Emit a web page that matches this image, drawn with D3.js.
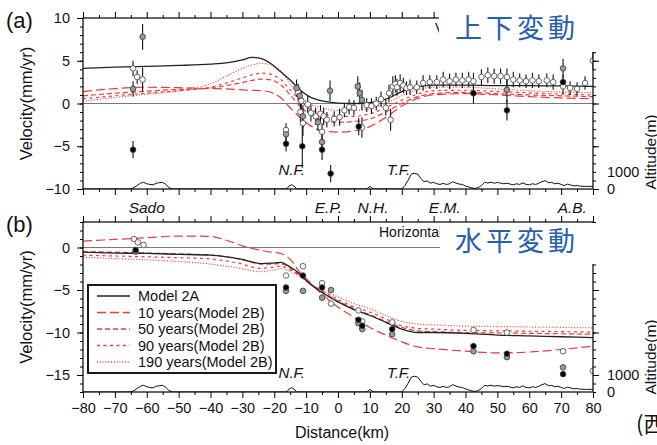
<!DOCTYPE html>
<html>
<head>
<meta charset="utf-8">
<script src="https://cdn.jsdelivr.net/npm/d3@7"></script>
<style>
body { margin: 0; background: #fff; }
svg { display: block; font-family: "Liberation Sans", Arial, Helvetica, sans-serif; }
</style>
</head>
<body>
<svg id="fig" width="657" height="445"></svg>
<script>
// ---- model curves (distance grid in km) ----
const gridKm = [-80,-70,-60,-50,-40,-35,-30,-27,-24,-21,-18,-15,-12,-9,-5,0,5,10,15,20,25,30,40,50,60,70,80];

// (a) vertical velocity, mm/yr
const vertModel2A = [4.1,4.25,4.35,4.45,4.6,4.75,5.1,5.4,5.25,4.65,3.7,2.75,1.6,0.8,0.3,0.05,0.0,0.1,0.5,1.4,1.95,2.15,2.15,2.1,2.1,2.05,2.0];
const vert10yr = [1.4,1.75,1.9,1.85,1.75,1.7,1.6,1.55,1.5,1.3,0.7,-0.5,-1.6,-2.5,-3.2,-3.35,-3.2,-2.7,-1.6,-0.3,0.6,1.0,1.15,1.0,0.8,0.65,0.55];
const vert50yr = [0.9,1.2,1.45,1.65,1.8,2.1,2.45,2.7,2.85,2.75,2.2,1.0,-0.3,-1.2,-1.9,-2.2,-2.1,-1.8,-1.0,0.0,0.8,1.15,1.3,1.15,1.0,0.9,0.8];
const vert90yr = [0.55,0.9,1.2,1.5,1.9,2.4,3.0,3.35,3.55,3.4,2.8,1.6,0.4,-0.6,-1.2,-1.5,-1.5,-1.2,-0.5,0.4,1.1,1.5,1.55,1.4,1.25,1.1,1.0];
const vert190yr = [0.3,0.7,1.1,1.45,2.3,3.2,4.1,4.5,4.7,4.5,3.8,2.3,0.9,0.0,-0.5,-0.8,-0.8,-0.6,0.0,0.9,1.6,1.9,1.9,1.7,1.5,1.35,1.25];

// (b) horizontal velocity, mm/yr
const horizModel2A = [-0.55,-0.65,-0.7,-0.8,-0.9,-1.1,-1.4,-1.7,-1.9,-1.85,-1.75,-2.3,-3.1,-4.2,-5.3,-6.4,-7.3,-8.0,-8.8,-9.6,-10.0,-10.0,-10.1,-10.3,-10.4,-10.5,-10.6];
const horiz10yr = [0.75,0.95,1.15,1.35,1.3,0.85,0.2,-0.1,-0.35,-0.55,-0.7,-1.4,-2.9,-4.0,-5.5,-7.0,-8.2,-9.4,-10.3,-11.1,-11.7,-11.9,-12.2,-12.4,-12.3,-12.0,-11.6];
const horiz50yr = [-0.5,-0.55,-0.65,-0.75,-0.9,-1.1,-1.45,-1.75,-1.95,-1.95,-1.9,-2.4,-3.2,-4.2,-5.2,-6.3,-7.2,-7.9,-8.7,-9.4,-9.8,-9.9,-10.0,-10.05,-10.1,-10.15,-10.2];
const horiz90yr = [-0.9,-1.0,-1.1,-1.2,-1.35,-1.6,-1.95,-2.3,-2.45,-2.35,-2.2,-2.6,-3.3,-4.2,-5.1,-6.1,-7.0,-7.6,-8.4,-9.2,-9.5,-9.6,-9.75,-9.8,-9.85,-9.9,-9.95];
const horiz190yr = [-1.15,-1.3,-1.45,-1.65,-1.95,-2.2,-2.5,-2.75,-2.85,-2.7,-2.5,-2.8,-3.4,-4.2,-5.0,-5.8,-6.6,-7.2,-8.0,-8.7,-9.0,-9.1,-9.25,-9.3,-9.35,-9.4,-9.45];

// ---- topography profile (m) ----
const topoKm  = [-80,-65,-64,-63,-62,-61,-60,-59,-58,-57,-56,-55,-54,-53,-52,-16,-15.5,-14.5,-13.5,-13,9,10,11,20,21,22,23,24,25,26,27,28,29,30,31,32,33,34,35,36,37,38,39,40,41,42,43,44,45,46,47,48,49,50,51,52,53,54,55,56,57,58,59,60,61,62,63,64,65,66,67,68,69,70,71,72,73,74,75,76,78,80];
const topoAlt = [0,0,80,200,330,380,300,260,240,330,360,380,260,80,0,0,150,250,120,0,0,150,0,0,200,500,850,900,850,600,420,460,330,380,300,260,320,260,300,420,340,280,260,170,120,60,30,80,200,380,340,390,330,370,340,300,330,280,240,300,260,350,260,240,300,260,330,420,480,360,380,300,330,260,200,280,230,180,200,160,150,150];

// ---- observations ----
// (a) vertical: distance, velocity, error, kind (w open, g gray, b black)
const vertObsKm   = [-64.3,-64.3,-64.3,-63,-61.3,-61.3,-16.3,-16.3,-16.3,-13,-12.5,-12,-11.5,-11.8,-11,-11,-11.2,-9.5,-8.5,-7,-6.3,-5.5,-5,-5,-5,-4.5,-3.5,-2.5,-2.3,-1.2,0.5,2,3.5,5,6.2,6.8,7.5,6.5,7.5,9,10.5,12,13.5,15,16,16.5,17.2,18,18.5,19.5,20.5,21.5,22.6,24.7,26.7,28.8,31,33,35,37,39,41,42.5,42.5,45,47,49,51,53,53,53,55,57,59,61,63,65.5,67.5,70.6,70.6,70.6,72.8,75,77.5,80];
const vertObsVel  = [4.1,1.7,-5.4,3.1,7.8,2.8,-3.1,-3.6,-4.7,1.8,1.3,0.9,0.3,-1.0,-1.5,-2.3,-5.0,-0.1,-1.1,-1.5,-2.2,-1.2,-3.3,-4.5,-5.4,-1.5,-1.9,1.5,-8.2,-1.8,-1.6,-0.8,-0.4,-0.5,2.0,1.2,0.4,-2.7,-2.8,-0.2,-0.3,0.0,0.5,-0.5,1.2,-1.9,2.0,2.3,1.9,2.4,2.1,1.8,1.9,1.9,2.4,2.5,2.5,2.8,2.6,2.8,2.7,2.8,2.6,1.2,3.1,3.3,3.2,3.2,3.1,1.6,-0.8,2.8,2.7,2.6,2.7,2.6,2.7,2.5,4.1,2.5,2.0,1.8,1.7,2.4,5.0];
const vertObsErr  = [0.9,0.9,1.0,0.8,1.5,1.4,0.8,0.8,0.9,1.0,1.0,1.0,1.2,1.2,1.3,1.5,2.5,1.0,1.0,1.0,1.0,1.0,1.0,1.0,1.2,1.0,0.9,1.2,1.0,0.9,1.0,0.8,0.9,0.9,1.2,1.3,1.2,1.0,1.2,0.8,0.9,0.8,0.9,0.9,1.0,1.3,1.2,1.0,1.0,1.0,0.9,0.8,0.9,0.8,0.9,0.8,0.8,0.9,0.9,0.8,0.9,0.9,1.0,1.2,0.9,0.9,0.9,0.9,1.0,1.5,1.2,0.9,0.8,0.8,0.9,0.8,0.8,0.9,1.1,0.9,0.9,0.8,0.8,0.8,1.0];
const vertObsKind = ["w","g","b","w","g","w","w","g","b","g","w","g","w","w","g","w","b","w","w","w","g","w","w","g","b","w","w","g","b","w","w","w","w","w","g","g","g","b","w","w","w","w","w","w","w","w","w","w","w","w","w","w","w","w","w","w","w","w","w","w","w","w","w","b","w","w","w","w","w","g","b","w","w","w","w","w","w","w","g","b","w","w","w","w","w"];

// (b) horizontal
const horizObsKm   = [-64,-62.8,-61,-63.5,-63.5,-16.3,-16.3,-16.3,-11,-11,-11,-5,-5,-5,-2.2,-2.2,6.4,6.4,6.4,7.6,7.6,7.6,17,17,17,42.5,42.5,42.5,53,53,53,70.6,70.6,70.6,80];
const horizObsVel  = [1.0,0.6,0.3,-0.5,-0.3,-3.3,-4.7,-5.1,-2.2,-3.3,-5.1,-4.2,-4.7,-5.9,-5.0,-6.6,-7.4,-8.5,-8.9,-8.7,-9.2,-9.6,-8.8,-9.6,-10.2,-9.7,-11.6,-12.2,-10.0,-12.5,-12.9,-12.2,-14.9,-14.1,-14.5];
const horizObsKind = ["w","w","w","g","b","w","b","g","w","b","g","w","b","g","g","w","w","b","g","w","b","g","w","b","g","w","b","g","w","b","g","w","b","g","w"];

// ---- labels ----
const xTickValues = d3.range(-80, 81, 10);
const siteNames = ["Sado", "E.P.", "N.H.", "E.M.", "A.B."];
const siteKm = [-60, -3, 11, 33.5, 73.5];
const faultNames = ["N.F.", "T.F."];
const faultKm = [-14.5, 19];
const seriesNames = ["Model 2A", "10 years(Model 2B)", "50 years(Model 2B)", "90 years(Model 2B)", "190 years(Model 2B)"];
const altTicks = [0, 1000];

// styles per series
const seriesColor = ["#222", "#ec3b3f", "#ec3b3f", "#ec3b3f", "#ec3b3f"];
const seriesDash = [null, "9,4", "5,3", "3,3.5", "1,1.8"];
const kindFill = { w: "#fff", g: "#9a9a9a", b: "#000" };

const svg = d3.select("#fig");
const x = d3.scaleLinear([-80, 80], [83, 593]);

function makePanel(p) {
    const y = d3.scaleLinear(p.yDomain, [p.bottom, p.top]);
    const alt = d3.scaleLinear([0, 1000], [p.bottom, p.bottom - 17.5]);
    const g = svg.append("g");

    const clipId = "clip" + p.id;
    svg.append("clipPath").attr("id", clipId)
        .append("rect").attr("x", 83).attr("y", p.top).attr("width", 510).attr("height", p.bottom - p.top);

    // zero line
    g.append("line").attr("x1", 83).attr("x2", 593).attr("y1", y(0)).attr("y2", y(0))
        .attr("stroke", "#555").attr("stroke-width", 0.8);

    // topography
    g.append("path")
        .datum(d3.zip(topoKm, topoAlt))
        .attr("clip-path", `url(#${clipId})`)
        .attr("fill", "none").attr("stroke", "#111").attr("stroke-width", 1)
        .attr("d", d3.line().x(d => x(d[0])).y(d => alt(d[1])));

    // model curves
    const inner = g.append("g").attr("clip-path", `url(#${clipId})`);
    const line = d3.line().curve(d3.curveMonotoneX).x(d => x(d[0])).y(d => y(d[1]));
    p.series.slice().reverse().forEach((s, ri) => {
        const i = p.series.length - 1 - ri;
        inner.append("path")
            .datum(d3.zip(gridKm, s))
            .attr("fill", "none")
            .attr("stroke", seriesColor[i])
            .attr("stroke-width", i === 0 ? 1.3 : 1.2)
            .attr("stroke-dasharray", seriesDash[i])
            .attr("d", line);
    });

    // observations
    const obs = p.obsKm.map((k, i) => ({ km: k, v: p.obsVel[i], e: p.obsErr ? p.obsErr[i] : 0, kind: p.obsKind[i] }));
    const order = { w: 0, g: 1, b: 2 };
    obs.sort((a, b) => order[a.kind] - order[b.kind]);
    if (p.obsErr) {
        inner.selectAll(".err").data(obs).enter().append("line")
            .attr("class", "err")
            .attr("x1", d => x(d.km)).attr("x2", d => x(d.km))
            .attr("y1", d => y(d.v - d.e)).attr("y2", d => y(d.v + d.e))
            .attr("stroke", "#111").attr("stroke-width", 1.1);
    }
    inner.selectAll(".dot").data(obs).enter().append("circle")
        .attr("class", "dot")
        .attr("cx", d => x(d.km)).attr("cy", d => y(d.v))
        .attr("r", 2.8)
        .attr("fill", d => kindFill[d.kind])
        .attr("stroke", d => d.kind === "w" ? "#555" : "#444")
        .attr("stroke-width", 0.9);

    // frame
    g.append("rect").attr("x", 83).attr("y", p.top).attr("width", 510).attr("height", p.bottom - p.top)
        .attr("fill", "none").attr("stroke", "#000").attr("stroke-width", 1.2);

    // x ticks on top and bottom: long every 10 km, short every 5 km
    const xMinor = d3.range(-75, 80, 10);
    [[d3.axisBottom, p.bottom], [d3.axisTop, p.top]].forEach(([ax, pos]) => {
        const a1 = g.append("g").attr("transform", `translate(0,${pos})`)
            .call(ax(x).tickValues(xMinor).tickSize(3).tickFormat(""));
        a1.select(".domain").remove();
        const a2 = g.append("g").attr("transform", `translate(0,${pos})`)
            .call(ax(x).tickValues(xTickValues).tickSize(6).tickPadding(5)
                .tickFormat(d => (p.xLabels && pos === p.bottom) ? d3.format("d")(d) : ""));
        a2.select(".domain").remove();
        a2.selectAll("text").attr("font-size", 14.5).attr("fill", "#111").attr("font-family", null);
    });

    // y ticks left (minor and major) and mirrored right
    const minorY = d3.range(p.yDomain[0], p.yDomain[1] + 1, 1);
    [[d3.axisLeft, 83], [d3.axisRight, 593]].forEach(([ax, pos]) => {
        const a1 = g.append("g").attr("transform", `translate(${pos},0)`)
            .call(ax(y).tickValues(minorY).tickSize(3).tickFormat(""));
        a1.select(".domain").remove();
        const a2 = g.append("g").attr("transform", `translate(${pos},0)`)
            .call(ax(y).tickValues(p.majorY).tickSize(6).tickPadding(7)
                .tickFormat(pos === 83 ? d3.format("d") : ""));
        a2.select(".domain").remove();
        a2.selectAll("text").attr("font-size", 14.5).attr("fill", "#111").attr("font-family", null);
    });
    g.selectAll(".tick line").attr("stroke", "#000").attr("stroke-width", 1);

    // altitude labels
    g.selectAll(".alt").data(altTicks).enter().append("text")
        .attr("x", 607).attr("y", d => alt(d)).attr("dy", "0.35em")
        .attr("font-size", 14.5).attr("fill", "#111")
        .text(d => d);
    g.append("text")
        .attr("transform", `translate(656,${p.altLabelY}) rotate(-90)`)
        .attr("text-anchor", "middle").attr("font-size", 15.5).attr("fill", "#111")
        .text("Altitude(m)");

    // y title
    g.append("text")
        .attr("transform", `translate(32,${(p.top + p.bottom) / 2}) rotate(-90)`)
        .attr("text-anchor", "middle").attr("font-size", 16.5).attr("fill", "#111")
        .text("Velocity(mm/yr)");

    // panel letter
    g.append("text").attr("x", 6).attr("y", p.top + 10).attr("font-size", 22).attr("fill", "#111").text(p.letter);

    // fault labels
    g.selectAll(".fault").data(faultNames).enter().append("text")
        .attr("x", (d, i) => x(faultKm[i])).attr("y", p.bottom - 14)
        .attr("text-anchor", "middle").attr("font-size", 15).attr("font-style", "italic").attr("fill", "#111")
        .text(d => d);

    // switched-off series label (Vertical / Horizontal), covered below
    g.append("text").attr("x", p.tagX).attr("y", p.top + 15).attr("font-size", 14).attr("fill", "#111").text(p.tag);

    return { g, y };
}

const panelA = makePanel({
    id: "a", letter: "(a)", top: 18, bottom: 189, yDomain: [-10, 10], majorY: [-10, -5, 0, 5, 10],
    series: [vertModel2A, vert10yr, vert50yr, vert90yr, vert190yr],
    obsKm: vertObsKm, obsVel: vertObsVel, obsErr: vertObsErr, obsKind: vertObsKind,
    xLabels: false, altLabelY: 152, tag: "Vertical", tagX: 435
});

// site names under panel (a)
panelA.g.selectAll(".site").data(siteNames).enter().append("text")
    .attr("x", (d, i) => x(siteKm[i])).attr("y", 213)
    .attr("text-anchor", "middle").attr("font-size", 15.5).attr("font-style", "italic").attr("fill", "#111")
    .text(d => d);

const panelB = makePanel({
    id: "b", letter: "(b)", top: 222, bottom: 392, yDomain: [-17, 3], majorY: [-15, -10, -5, 0],
    series: [horizModel2A, horiz10yr, horiz50yr, horiz90yr, horiz190yr],
    obsKm: horizObsKm, obsVel: horizObsVel, obsKind: horizObsKind,
    xLabels: true, altLabelY: 357, tag: "Horizontal", tagX: 379
});

// x title
svg.append("text").attr("x", 342).attr("y", 438).attr("text-anchor", "middle")
    .attr("font-size", 16).attr("fill", "#111").text("Distance(km)");

// legend
const lg = svg.append("g").attr("transform", "translate(88,285)");
lg.append("rect").attr("width", 188).attr("height", 88)
    .attr("fill", "#fff").attr("stroke", "#000").attr("stroke-width", 1.8);
seriesNames.forEach((name, i) => {
    const yy = 11 + i * 16.5;
    lg.append("line").attr("x1", 9).attr("x2", 42).attr("y1", yy).attr("y2", yy)
        .attr("stroke", seriesColor[i]).attr("stroke-width", i === 0 ? 1.4 : 1.3)
        .attr("stroke-dasharray", seriesDash[i]);
    lg.append("text").attr("x", 50).attr("y", yy).attr("dy", "0.35em")
        .attr("font-size", 14.5).attr("fill", "#111").text(name);
});

// white boxes over the upper-right corners with the Japanese titles
svg.append("rect").attr("x", 439).attr("y", 0).attr("width", 218).attr("height", 52).attr("fill", "#fff");
svg.append("rect").attr("x", 440).attr("y", 223).attr("width", 217).attr("height", 41).attr("fill", "#fff");
const titleColor = "#2660ac";
svg.append("text").attr("x", 517).attr("y", 38).attr("text-anchor", "middle")
    .attr("font-family", "'Noto Sans CJK JP', sans-serif").attr("font-size", 27)
    .attr("letter-spacing", 4).attr("fill", titleColor).text("上下変動");
svg.append("text").attr("x", 517).attr("y", 251).attr("text-anchor", "middle")
    .attr("font-family", "'Noto Sans CJK JP', sans-serif").attr("font-size", 27)
    .attr("letter-spacing", 4).attr("fill", titleColor).text("水平変動");

// cut-off caption at the lower right
svg.append("text").attr("x", 636).attr("y", 432)
    .attr("font-family", "'Noto Sans CJK JP', sans-serif").attr("font-size", 22)
    .attr("fill", "#111").text("(西");
</script>
</body>
</html>
